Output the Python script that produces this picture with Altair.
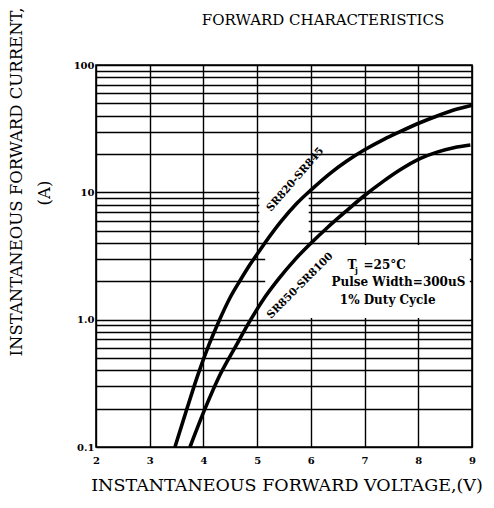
import altair as alt
import pandas as pd

# ---- data ----
upper_v = [3.47, 3.70, 3.90, 4.10, 4.28, 4.50, 4.68, 4.87, 5.06, 5.43, 5.74, 6.02, 6.36, 6.67, 7.00, 7.36, 7.67, 8.03, 8.35, 8.66, 9.0]
upper_i = [0.1, 0.204, 0.372, 0.631, 0.955, 1.50, 2.02, 2.72, 3.56, 5.8, 8.2, 10.6, 14.1, 17.6, 21.6, 26.1, 30.1, 35.2, 39.8, 44.3, 48.3]
lower_v = [3.75, 4.03, 4.30, 4.60, 4.88, 5.10, 5.40, 5.70, 6.00, 6.30, 6.65, 7.00, 7.36, 7.67, 8.03, 8.35, 8.66, 8.97]
lower_i = [0.1, 0.2, 0.363, 0.617, 1.0, 1.41, 2.09, 2.95, 3.98, 5.25, 7.08, 9.44, 12.3, 15.1, 18.4, 20.7, 22.4, 23.5]
series_names = ["SR820-SR845", "SR850-SR8100"]

x_ticks = [2, 3, 4, 5, 6, 7, 8, 9]
y_grid = [0.1, 0.2, 0.3, 0.4, 0.5, 0.6, 0.7, 0.8, 0.9,
          1, 2, 3, 4, 5, 6, 7, 8, 9,
          10, 20, 30, 40, 50, 60, 70, 80, 90, 100]
y_labels = {100: "100", 10: "10", 1: "1.0", 0.1: "0.1"}

title_text = "FORWARD  CHARACTERISTICS"
x_title = "INSTANTANEOUS  FORWARD  VOLTAGE,(V)"
y_title_1 = "INSTANTANEOUS  FORWARD  CURRENT,"
y_title_2 = "(A)"
cond_lines = ["Pulse Width=300uS", "1% Duty Cycle"]

# label anchors (data coordinates)
series_label_v = [5.71, 5.80]
series_label_i = [12.6, 1.85]
series_label_angle = [311, 315]
cond_v = [7.63, 7.43]
cond_i = [1.97, 1.43]
# white backgrounds behind annotations (data coordinates)
box_v = [5.15, 5.04]
box_v2 = [8.96, 5.96]
box_i = [1.03, 4.6]
box_i2 = [3.85, 10.8]

FONT = "DejaVu Serif"

curves = pd.DataFrame({
    "V": upper_v + lower_v,
    "I": upper_i + lower_i,
    "s": [series_names[0]] * len(upper_v) + [series_names[1]] * len(lower_v),
})

label_expr = " : ".join(
    f"datum.value == {k} ? '{v}'" for k, v in y_labels.items()
) + " : ''"

xs = alt.Scale(domain=[2, 9], nice=False, zero=False)
ys = alt.Scale(type="log", domain=[0.1, 100], nice=False)

x_axis = alt.Axis(values=x_ticks, grid=True, gridColor="black", gridWidth=1.4, gridOpacity=1,
                  ticks=False, domain=False, labelFont=FONT, labelFontWeight="bold",
                  labelFontSize=10, labelColor="black", labelPadding=8, labelFlush=False,
                  labelOverlap=False, title=None)
y_axis = alt.Axis(values=y_grid, labelExpr=label_expr, grid=True, gridColor="black",
                  gridWidth=1.4, gridOpacity=1, ticks=False, domain=False, labelFont=FONT,
                  labelFontWeight="bold", labelFontSize=10, labelColor="black", labelPadding=2,
                  labelFlush=False, labelOverlap=False, title=None)

X = alt.X("V:Q", scale=xs, axis=x_axis)
Y = alt.Y("I:Q", scale=ys, axis=y_axis)

boxes = alt.Chart(pd.DataFrame({"V": box_v, "V2": box_v2, "I": box_i, "I2": box_i2})).mark_rect(
    fill="white", stroke=None
).encode(x=X, x2="V2:Q", y=Y, y2="I2:Q")

lines = alt.Chart(curves).mark_line(color="black", strokeWidth=3.6, interpolate="monotone").encode(
    x=X, y=Y, detail="s:N"
)

series_lbl = alt.Chart(pd.DataFrame({
    "V": series_label_v, "I": series_label_i, "t": series_names, "a": series_label_angle
})).mark_text(font=FONT, fontSize=10.5, fontWeight="bold", color="black").encode(
    x=X, y=Y, text="t:N", angle=alt.Angle("a:Q", scale=None)
)

cond_lbl = alt.Chart(pd.DataFrame({"V": cond_v, "I": cond_i, "t": cond_lines})).mark_text(
    font=FONT, fontSize=12, fontWeight="bold", color="black"
).encode(x=X, y=Y, text="t:N")

tj_T = alt.Chart(pd.DataFrame({"V": [6.68], "I": [2.69], "t": ["T"]})).mark_text(
    font=FONT, fontSize=12, fontWeight="bold", color="black", align="left"
).encode(x=X, y=Y, text="t:N")
tj_j = alt.Chart(pd.DataFrame({"V": [6.82], "I": [2.42], "t": ["j"]})).mark_text(
    font=FONT, fontSize=8, fontWeight="bold", color="black", align="left"
).encode(x=X, y=Y, text="t:N")
tj_rest = alt.Chart(pd.DataFrame({"V": [6.98], "I": [2.69], "t": ["=25°C"]})).mark_text(
    font=FONT, fontSize=12, fontWeight="bold", color="black", align="left"
).encode(x=X, y=Y, text="t:N")


def free_text(txt, x, y, size=17, angle=0, baseline="middle"):
    return alt.Chart(pd.DataFrame({"t": [txt]})).mark_text(
        font=FONT, fontSize=size, color="black", angle=angle, baseline=baseline, align="center"
    ).encode(x=alt.value(x), y=alt.value(y), text="t:N")


title_lbl = free_text(title_text, 227, -40, size=15, baseline="alphabetic")
xtitle_lbl = free_text(x_title, 191, 426, size=17.5, baseline="alphabetic")
ytitle_1 = free_text(y_title_1, -79, 117, size=16.5, angle=270)
ytitle_2 = free_text(y_title_2, -51, 128, size=16.5, angle=270)

chart = alt.layer(
    boxes, lines, series_lbl, cond_lbl, tj_T, tj_j, tj_rest,
    title_lbl, xtitle_lbl, ytitle_1, ytitle_2
).properties(
    width=376, height=382,
    autosize=alt.AutoSizeParams(type="none"),
    padding={"left": 88, "top": 57, "right": 14, "bottom": 49},
    background="white",
).configure_view(stroke="black", strokeWidth=1.6)

chart.save("out.html", embed_options={"renderer": "svg", "actions": False})
